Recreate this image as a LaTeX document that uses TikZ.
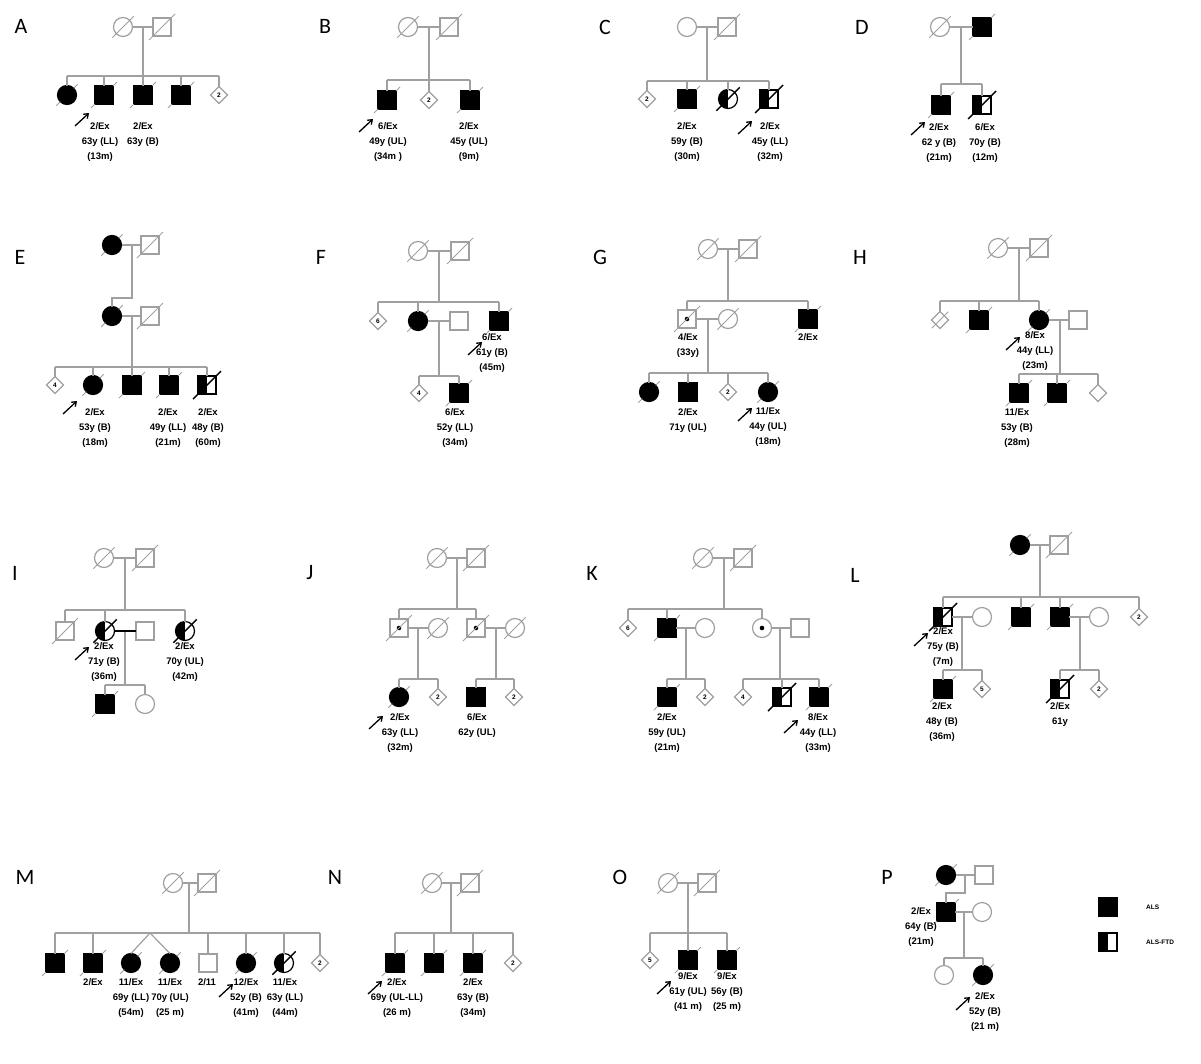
\documentclass[tikz,border=0pt]{standalone}
\usepackage{fontspec}
\setmainfont{Liberation Sans}
\newfontfamily\pfont{Carlito}
\usetikzlibrary{shapes.geometric,arrows.meta,calc}
\definecolor{gl}{RGB}{160,160,160}
\newcommand\dslash[1]{\draw[gslash] ([shift={(-4pt,-4pt)}]#1.south west) -- ([shift={(4pt,4pt)}]#1.north east);}
\newcommand\dtick[1]{\draw[gslash] ([shift={(-4pt,-4pt)}]#1.south west) -- (#1.south west) (#1.north east) -- ([shift={(4pt,4pt)}]#1.north east);}
\newcommand\kslash[1]{\draw[kslashst] ([shift={(-5pt,-5pt)}]#1.south west) -- ([shift={(5pt,5pt)}]#1.north east);}
\newcommand\prb[1]{\draw[probar] ([shift={(-14pt,-13pt)}]#1) -- (#1);}
\newcommand\kids[4]{\draw[ln] (#3|-#1) -- (#4|-#1); \foreach \c in {#2} {\draw[ln] (\c) -- (\c|-#1);}}
\begin{document}
\begin{tikzpicture}[x=1pt,y=-1pt,
  sym/.style={inner sep=0pt, outer sep=0pt, line width=1.2pt},
  gsq/.style={sym, rectangle, draw=gl, fill=white, minimum size=18pt},
  bsq/.style={sym, rectangle, draw=black, fill=black, minimum size=18pt},
  gci/.style={sym, circle, draw=gl, fill=white, minimum size=19pt},
  bci/.style={sym, circle, draw=black, fill=black, minimum size=19pt},
  gdi/.style={sym, diamond, draw=gl, fill=white, minimum width=17pt, minimum height=17pt, font=\fontsize{6.5}{6.5}\selectfont\bfseries},
  hsq/.style={sym, rectangle, draw=black, fill=white, minimum size=18pt, path picture={\fill[black] (path picture bounding box.south west) rectangle (path picture bounding box.north);}},
  hci/.style={sym, circle, draw=black, fill=white, minimum size=19pt, path picture={\fill[black] (path picture bounding box.south west) rectangle (path picture bounding box.north);}},
  csq/.style={gsq, path picture={\fill[black] (path picture bounding box.center) circle (2.3pt);}},
  cci/.style={gci, path picture={\fill[black] (path picture bounding box.center) circle (2.3pt);}},
  ln/.style={draw=gl, line width=1.2pt},
  gslash/.style={draw=gl, line width=0.8pt},
  kslashst/.style={draw=black, line width=1.4pt},
  lbl/.style={font=\fontsize{9.5}{15}\selectfont\bfseries, align=center, inner sep=0pt, anchor=north},
  panel/.style={font=\pfont\fontsize{22}{22}\selectfont, inner sep=0pt},
  probar/.style={-{Straight Barb[length=4pt,width=6pt]}, line width=1.3pt, black},
  leg/.style={font=\fontsize{6.5}{7}\selectfont\bfseries, inner sep=0pt, anchor=west}
]
\fill[white] (0,0) rectangle (1201,1063);
\useasboundingbox (0,0) rectangle (1201,1063);

% ---------------- A
\node[panel] (LA) at (21,26) {A};
\node[gci] (A1) at (123,27) {}; \node[gsq] (A2) at (162,27) {};
\coordinate (Am) at (143,27); \coordinate (As) at (143,76);
\node[bci] (A3) at (67,95) {}; \node[bsq] (A4) at (104,95) {}; \node[bsq] (A5) at (143,95) {};
\node[bsq] (A6) at (181,95) {}; \node[gdi] (A7) at (219,95) {2};
\draw[ln] (A1) -- (A2); \draw[ln] (Am) -- (As);
\kids{As}{A3,A4,A5,A6,A7}{A3}{A7}
\dslash{A1} \dslash{A2} \dtick{A3} \dtick{A4} \dtick{A5} \dtick{A6}
\node[lbl] (At1) at (100,122) {2/Ex\\63y (LL)\\(13m)};
\node[lbl] (At2) at (143,122) {2/Ex\\63y (B)};
\coordinate (Aa) at (89,113); \prb{Aa}

% ---------------- B
\node[panel] (LB) at (325,26) {B};
\node[gci] (B1) at (408,27) {}; \node[gsq] (B2) at (449,27) {};
\coordinate (Bm) at (429,27); \coordinate (Bs) at (429,80);
\node[bsq] (B3) at (387,100) {}; \node[gdi] (B4) at (429,100) {2}; \node[bsq] (B5) at (470,100) {};
\draw[ln] (B1) -- (B2); \draw[ln] (Bm) -- (Bs);
\kids{Bs}{B3,B4,B5}{B3}{B5}
\dslash{B1} \dslash{B2} \dtick{B3} \dtick{B5}
\node[lbl] (Bt1) at (388,122.5) {6/Ex\\49y (UL)\\(34m )};
\node[lbl] (Bt2) at (469,122.5) {2/Ex\\45y (UL)\\(9m)};
\coordinate (Ba) at (373,119); \prb{Ba}

% ---------------- C
\node[panel] (LC) at (605,27) {C};
\node[gci] (C1) at (687,27) {}; \node[gsq] (C2) at (727,27) {};
\coordinate (Cm) at (707,27); \coordinate (Cs) at (707,81);
\node[gdi] (C3) at (647,99) {2}; \node[bsq] (C4) at (687,99) {}; \node[hci] (C5) at (728,99) {}; \node[hsq] (C6) at (769,99) {};
\draw[ln] (C1) -- (C2); \draw[ln] (Cm) -- (Cs);
\kids{Cs}{C3,C4,C5,C6}{C3}{C6}
\dslash{C2} \dtick{C4} \kslash{C5} \kslash{C6}
\node[lbl] (Ct1) at (687,122) {2/Ex\\59y (B)\\(30m)};
\node[lbl] (Ct2) at (770,122) {2/Ex\\45y (LL)\\(32m)};
\coordinate (Ca) at (752,121); \prb{Ca}

% ---------------- D
\node[panel] (LD) at (862,27) {D};
\node[gci] (D1) at (940,27) {}; \node[bsq] (D2) at (982,27) {};
\coordinate (Dm) at (961,27); \coordinate (Ds) at (961,84);
\node[bsq] (D3) at (941,105) {}; \node[hsq] (D4) at (982,105) {};
\draw[ln] (D1) -- (D2); \draw[ln] (Dm) -- (Ds);
\kids{Ds}{D3,D4}{D3}{D4}
\dslash{D1} \dtick{D2} \dtick{D3} \kslash{D4}
\node[lbl] (Dt1) at (939,123) {2/Ex\\62 y (B)\\(21m)};
\node[lbl] (Dt2) at (985,123) {6/Ex\\70y (B)\\(12m)};
\coordinate (Da) at (925,122); \prb{Da}

% ---------------- E
\node[panel] (LE) at (20,257) {E};
\node[bci] (E1) at (112,245) {}; \node[gsq] (E2) at (150,245) {};
\coordinate (Em) at (132,245); \coordinate (Ed) at (132,298);
\node[bci] (E3) at (112,316) {}; \node[gsq] (E4) at (150,316) {};
\coordinate (Em2) at (132,316); \coordinate (Es) at (132,367);
\node[gdi] (E5) at (55,385) {4}; \node[bci] (E6) at (93,385) {}; \node[bsq] (E7) at (132,385) {};
\node[bsq] (E8) at (169,385) {}; \node[hsq] (E9) at (207,385) {};
\draw[ln] (E1) -- (E2); \draw[ln] (Em) -- (Ed) -- (E3|-Ed) -- (E3);
\draw[ln] (E3) -- (E4); \draw[ln] (Em2) -- (Es);
\kids{Es}{E5,E6,E7,E8,E9}{E5}{E9}
\dtick{E1} \dslash{E2} \dtick{E3} \dslash{E4} \dtick{E6} \dtick{E7} \dtick{E8} \kslash{E9}
\node[lbl] (Et1) at (95,408) {2/Ex\\53y (B)\\(18m)};
\node[lbl] (Et2) at (168,408) {2/Ex\\49y (LL)\\(21m)};
\node[lbl] (Et3) at (208,408) {2/Ex\\48y (B)\\(60m)};
\coordinate (Ea) at (77,401); \prb{Ea}

% ---------------- F
\node[panel] (LF) at (321,257) {F};
\node[gci] (F1) at (418,251) {}; \node[gsq] (F2) at (460,251) {};
\coordinate (Fm) at (439,251); \coordinate (Fs) at (439,302);
\node[gdi] (F3) at (378,321) {6}; \node[bci] (F4) at (418,321) {}; \node[gsq] (F5) at (459,321) {}; \node[bsq] (F6) at (499,321) {};
\coordinate (Fm2) at (439,321); \coordinate (Fs2) at (439,376);
\node[gdi] (F7) at (419,393) {4}; \node[bsq] (F8) at (459,393) {};
\draw[ln] (F1) -- (F2); \draw[ln] (Fm) -- (Fs);
\kids{Fs}{F3,F4,F6}{F3}{F6}
\draw[ln] (F4) -- (F5); \draw[ln] (Fm2) -- (Fs2);
\kids{Fs2}{F7,F8}{F7}{F8}
\dslash{F1} \dslash{F2} \dtick{F4} \dtick{F6} \dtick{F8}
\node[lbl] (Ft1) at (492,333) {6/Ex\\61y (B)\\(45m)};
\node[lbl] (Ft2) at (455,408) {6/Ex\\52y (LL)\\(34m)};
\coordinate (Fa) at (482,342); \prb{Fa}

% ---------------- G
\node[panel] (LG) at (600,257) {G};
\node[gci] (G1) at (708,249) {}; \node[gsq] (G2) at (748,249) {};
\coordinate (Gm) at (728,249); \coordinate (Gs) at (728,301);
\node[csq] (G3) at (687,319) {}; \node[gci] (G4) at (728,319) {}; \node[bsq] (G5) at (808,319) {};
\coordinate (Gm2) at (708,319); \coordinate (Gs2) at (708,373);
\node[bci] (G6) at (649,392) {}; \node[bsq] (G7) at (688,392) {}; \node[gdi] (G8) at (728,392) {2}; \node[bci] (G9) at (768,392) {};
\draw[ln] (G1) -- (G2); \draw[ln] (Gm) -- (Gs);
\kids{Gs}{G3,G5}{G3}{G5}
\draw[ln] (G3) -- (G4); \draw[ln] (Gm2) -- (Gs2);
\kids{Gs2}{G6,G7,G8,G9}{G6}{G9}
\dslash{G1} \dslash{G2} \dslash{G3} \dslash{G4} \dtick{G5} \dtick{G6} \dtick{G9}
\node[lbl] (Gt1) at (688,333) {4/Ex\\(33y)};
\node[lbl] (Gt2) at (808,333) {2/Ex};
\node[lbl] (Gt3) at (688,408) {2/Ex\\71y (UL)};
\node[lbl] (Gt4) at (768,407) {11/Ex\\44y (UL)\\(18m)};
\coordinate (Ga) at (752,408); \prb{Ga}

% ---------------- H
\node[panel] (LH) at (860,257) {H};
\node[gci] (H1) at (998,248) {}; \node[gsq] (H2) at (1039,248) {};
\coordinate (Hm) at (1019,248); \coordinate (Hs) at (1019,301);
\node[gdi] (H3) at (940,320) {}; \node[bsq] (H4) at (979,320) {}; \node[bci] (H5) at (1039,320) {}; \node[gsq] (H6) at (1078,320) {};
\coordinate (Hm2) at (1060,320); \coordinate (Hs2) at (1060,374);
\node[bsq] (H7) at (1019,393) {}; \node[bsq] (H8) at (1057,393) {}; \node[gdi] (H9) at (1098,393) {};
\draw[ln] (H1) -- (H2); \draw[ln] (Hm) -- (Hs);
\kids{Hs}{H3,H4,H5}{H3}{H5}
\draw[ln] (H5) -- (H6); \draw[ln] (Hm2) -- (Hs2);
\kids{Hs2}{H7,H8,H9}{H7}{H9}
\dslash{H1} \dslash{H2} \dslash{H3} \dtick{H4} \dtick{H5} \dtick{H7} \dtick{H8}
\node[lbl] (Ht1) at (1035,331) {8/Ex\\44y (LL)\\(23m)};
\node[lbl] (Ht2) at (1017,408) {11/Ex\\53y (B)\\(28m)};
\coordinate (Ha) at (1020,337); \prb{Ha}

% ---------------- I
\node[panel] (LI) at (15,573) {I};
\node[gci] (I1) at (104,558) {}; \node[gsq] (I2) at (145,558) {};
\coordinate (Im) at (125,558); \coordinate (Is) at (125,610);
\node[gsq] (I3) at (65,631) {}; \node[hci] (I4) at (105,631) {}; \node[gsq] (I5) at (145,631) {}; \node[hci] (I6) at (185,631) {};
\coordinate (Im2) at (125,631); \coordinate (Is2) at (125,685);
\node[bsq] (I7) at (105,704) {}; \node[gci] (I8) at (145,704) {};
\draw[ln] (I1) -- (I2); \draw[ln] (Im) -- (Is);
\kids{Is}{I3,I4,I6}{I3}{I6}
\draw[ln] (Im2) -- (Is2); \draw[black, line width=1.6pt] (I4) -- (I5);
\kids{Is2}{I7,I8}{I7}{I8}
\dslash{I1} \dslash{I2} \dslash{I3} \kslash{I4} \kslash{I6} \dtick{I7}
\node[lbl] (It1) at (104,642) {2/Ex\\71y (B)\\(36m)};
\node[lbl] (It2) at (185,642) {2/Ex\\70y (UL)\\(42m)};
\coordinate (Ia) at (89,647); \prb{Ia}

% ---------------- J
\node[panel] (LJ) at (310,573) {J};
\node[gci] (J1) at (437,558) {}; \node[gsq] (J2) at (476,558) {};
\coordinate (Jm) at (457,558); \coordinate (Js) at (457,609);
\node[csq] (J3) at (399,628) {}; \node[gci] (J4) at (438,628) {}; \node[csq] (J5) at (476,628) {}; \node[gci] (J6) at (515,628) {};
\coordinate (Jm2) at (418,628); \coordinate (Js2) at (418,679);
\coordinate (Jm3) at (496,628); \coordinate (Js3) at (496,679);
\node[bci] (J7) at (399,697) {}; \node[gdi] (J8) at (438,697) {2}; \node[bsq] (J9) at (476,697) {}; \node[gdi] (J10) at (514,697) {2};
\draw[ln] (J1) -- (J2); \draw[ln] (Jm) -- (Js);
\kids{Js}{J3,J5}{J3}{J5}
\draw[ln] (J3) -- (J4); \draw[ln] (J5) -- (J6);
\draw[ln] (Jm2) -- (Js2); \draw[ln] (Jm3) -- (Js3);
\kids{Js2}{J7,J8}{J7}{J8}
\kids{Js3}{J9,J10}{J9}{J10}
\dslash{J1} \dslash{J2} \dslash{J3} \dslash{J4} \dslash{J5} \dslash{J6} \dtick{J7}
\node[lbl] (Jt1) at (400,713) {2/Ex\\63y (LL)\\(32m)};
\node[lbl] (Jt2) at (477,713) {6/Ex\\62y (UL)};
\coordinate (Ja) at (383,716); \prb{Ja}

% ---------------- K
\node[panel] (LK) at (592,573) {K};
\node[gci] (K1) at (703,558) {}; \node[gsq] (K2) at (743,558) {};
\coordinate (Km) at (724,558); \coordinate (Ks) at (724,609);
\node[gdi] (K3) at (628,628) {6}; \node[bsq] (K4) at (667,628) {}; \node[gci] (K5) at (705,628) {}; \node[cci] (K6) at (762,628) {}; \node[gsq] (K7) at (800,628) {};
\coordinate (Km2) at (686,628); \coordinate (Ks2) at (686,679);
\coordinate (Km3) at (780,628); \coordinate (Ks3) at (780,679);
\node[bsq] (K8) at (667,697) {}; \node[gdi] (K9) at (705,697) {2}; \node[gdi] (K10) at (743,697) {4}; \node[hsq] (K11) at (782,697) {}; \node[bsq] (K12) at (819,697) {};
\draw[ln] (K1) -- (K2); \draw[ln] (Km) -- (Ks);
\kids{Ks}{K3,K4,K6}{K3}{K6}
\draw[ln] (K4) -- (K5); \draw[ln] (K6) -- (K7);
\draw[ln] (Km2) -- (Ks2); \draw[ln] (Km3) -- (Ks3);
\kids{Ks2}{K8,K9}{K8}{K9}
\kids{Ks3}{K10,K11,K12}{K10}{K12}
\dslash{K1} \dslash{K2} \dtick{K4} \dtick{K8} \kslash{K11} \dtick{K12}
\node[lbl] (Kt1) at (667,713) {2/Ex\\59y (UL)\\(21m)};
\node[lbl] (Kt2) at (818,713) {8/Ex\\44y (LL)\\(33m)};
\coordinate (Ka) at (798,720); \prb{Ka}

% ---------------- L
\node[panel] (LL) at (855,575) {L};
\node[bci] (L1) at (1020,545) {}; \node[gsq] (L2) at (1059,545) {};
\coordinate (Lm) at (1040,545); \coordinate (Ls) at (1040,597);
\node[hsq] (L3) at (943,617) {}; \node[gci] (L4) at (982,617) {}; \node[bsq] (L5) at (1021,617) {}; \node[bsq] (L6) at (1060,617) {}; \node[gci] (L7) at (1099,617) {}; \node[gdi] (L8) at (1139,617) {2};
\coordinate (Lm2) at (962,617); \coordinate (Ls2) at (962,670);
\coordinate (Lm3) at (1080,617); \coordinate (Ls3) at (1080,670);
\node[bsq] (L9) at (943,689) {}; \node[gdi] (L10) at (982,689) {5}; \node[hsq] (L11) at (1060,689) {}; \node[gdi] (L12) at (1099,689) {2};
\draw[ln] (L1) -- (L2); \draw[ln] (Lm) -- (Ls);
\kids{Ls}{L3,L5,L6,L8}{L3}{L8}
\draw[ln] (L3) -- (L4); \draw[ln] (L6) -- (L7);
\draw[ln] (Lm2) -- (Ls2); \draw[ln] (Lm3) -- (Ls3);
\kids{Ls2}{L9,L10}{L9}{L10}
\kids{Ls3}{L11,L12}{L11}{L12}
\dtick{L1} \dslash{L2} \kslash{L3} \dtick{L5} \dtick{L6} \dtick{L9} \kslash{L11}
\node[lbl] (Lt1) at (943,627) {2/Ex\\75y (B)\\(7m)};
\node[lbl] (Lt2) at (942,702) {2/Ex\\48y (B)\\(36m)};
\node[lbl] (Lt3) at (1060,702) {2/Ex\\61y};
\coordinate (La) at (928,633); \prb{La}

% ---------------- M
\node[panel] (LM) at (25,877) {M};
\node[gci] (M1) at (173,883) {}; \node[gsq] (M2) at (207,883) {};
\coordinate (Mm) at (189,883); \coordinate (Ms) at (189,933); \coordinate (Mt) at (150,933);
\node[bsq] (M3) at (55,963) {}; \node[bsq] (M4) at (93,963) {}; \node[bci] (M5) at (131,963) {}; \node[bci] (M6) at (170,963) {};
\node[gsq] (M7) at (208,963) {}; \node[bci] (M8) at (246,963) {}; \node[hci] (M9) at (284,963) {}; \node[gdi] (M10) at (320,963) {2};
\draw[ln] (M1) -- (M2); \draw[ln] (Mm) -- (Ms);
\kids{Ms}{M3,M4,M7,M8,M9,M10}{M3}{M10}
\draw[ln] (Mt) -- (M5.north); \draw[ln] (Mt) -- (M6.north);
\dslash{M1} \dslash{M2} \dtick{M3} \dtick{M4} \dtick{M5} \dtick{M6} \dtick{M8} \kslash{M9}
\node[lbl] (Mt1) at (93,978) {2/Ex};
\node[lbl] (Mt2) at (131,978) {11/Ex\\69y (LL)\\(54m)};
\node[lbl] (Mt3) at (170,978) {11/Ex\\70y (UL)\\(25 m)};
\node[lbl] (Mt4) at (207,978) {2/11};
\node[lbl] (Mt5) at (246,978) {12/Ex\\52y (B)\\(41m)};
\node[lbl] (Mt6) at (285,978) {11/Ex\\63y (LL)\\(44m)};
\coordinate (Ma) at (233,984); \prb{Ma}

% ---------------- N
\node[panel] (LN) at (335,877) {N};
\node[gci] (N1) at (432,883) {}; \node[gsq] (N2) at (470,883) {};
\coordinate (Nm) at (451,883); \coordinate (Ns) at (451,933);
\node[bsq] (N3) at (395,963) {}; \node[bsq] (N4) at (434,963) {}; \node[bsq] (N5) at (473,963) {}; \node[gdi] (N6) at (513,963) {2};
\draw[ln] (N1) -- (N2); \draw[ln] (Nm) -- (Ns);
\kids{Ns}{N3,N4,N5,N6}{N3}{N6}
\dslash{N1} \dslash{N2} \dtick{N3} \dtick{N4} \dtick{N5}
\node[lbl] (Nt1) at (397,978) {2/Ex\\69y (UL-LL)\\(26 m)};
\node[lbl] (Nt2) at (473,978) {2/Ex\\63y (B)\\(34m)};
\coordinate (Na) at (382,981); \prb{Na}

% ---------------- O
\node[panel] (LO) at (620,877) {O};
\node[gci] (O1) at (668,883) {}; \node[gsq] (O2) at (707,883) {};
\coordinate (Om) at (688,883); \coordinate (Os) at (688,933);
\node[gdi] (O3) at (650,960) {5}; \node[bsq] (O4) at (688,960) {}; \node[bsq] (O5) at (727,960) {};
\draw[ln] (O1) -- (O2); \draw[ln] (Om) -- (Os);
\kids{Os}{O3,O4,O5}{O3}{O5}
\dslash{O1} \dslash{O2} \dtick{O4} \dtick{O5}
\node[lbl] (Ot1) at (688,972) {9/Ex\\61y (UL)\\(41 m)};
\node[lbl] (Ot2) at (727,972) {9/Ex\\56y (B)\\(25 m)};
\coordinate (Oa) at (671,981); \prb{Oa}

% ---------------- P
\node[panel] (LP) at (887,877) {P};
\node[bci] (P1) at (946,875) {}; \node[gsq] (P2) at (984,875) {};
\coordinate (Pm) at (965,875); \coordinate (Pd) at (965,893);
\node[bsq] (P3) at (946,912) {}; \node[gci] (P4) at (982,912) {};
\coordinate (Pm2) at (964,912); \coordinate (Ps2) at (964,958);
\node[gci] (P5) at (944,975) {}; \node[bci] (P6) at (983,975) {};
\draw[ln] (P1) -- (P2); \draw[ln] (Pm) -- (Pd) -- (P3|-Pd) -- (P3);
\draw[ln] (P3) -- (P4); \draw[ln] (Pm2) -- (Ps2);
\kids{Ps2}{P5,P6}{P5}{P6}
\dtick{P1} \dtick{P3} \dtick{P6}
\node[lbl] (Pt1) at (921,907) {2/Ex\\64y (B)\\(21m)};
\node[lbl] (Pt2) at (985,992) {2/Ex\\52y (B)\\(21 m)};
\coordinate (Pa) at (970,997); \prb{Pa}

% ---------------- legend
\node[bsq] (G1l) at (1108,907) {};
\node[leg] (G1t) at (1146,907) {ALS};
\node[hsq] (G2l) at (1108,942) {};
\node[leg] (G2t) at (1146,942) {ALS-FTD};
\end{tikzpicture}
\end{document}
